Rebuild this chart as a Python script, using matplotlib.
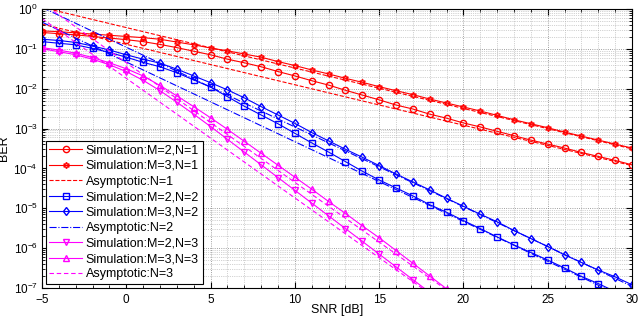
import numpy as np
import matplotlib
matplotlib.use("Agg")
import matplotlib.pyplot as plt
from matplotlib.ticker import LogLocator, MultipleLocator, NullFormatter

plt.rcParams['font.family'] = ['Liberation Sans', 'DejaVu Sans']
plt.rcParams['mathtext.fontset'] = 'custom'
plt.rcParams['mathtext.rm'] = 'Liberation Sans'

snr = np.arange(-5, 31)

# log10(BER)
sim_m2_n1 = [-0.59, -0.62, -0.65, -0.69, -0.73, -0.77, -0.82, -0.89, -0.97, -1.06,
             -1.15, -1.26, -1.35, -1.45, -1.57, -1.68, -1.80, -1.91, -2.04, -2.16,
             -2.28, -2.41, -2.51, -2.64, -2.74, -2.86, -2.96, -3.07, -3.18, -3.29,
             -3.39, -3.49, -3.60, -3.70, -3.80, -3.91]
sim_m3_n1 = [-0.55, -0.57, -0.60, -0.63, -0.66, -0.69, -0.72, -0.76, -0.83, -0.90,
             -0.98, -1.05, -1.13, -1.21, -1.32, -1.42, -1.53, -1.63, -1.74, -1.84,
             -1.95, -2.05, -2.15, -2.26, -2.36, -2.46, -2.56, -2.67, -2.78, -2.88,
             -2.98, -3.09, -3.19, -3.29, -3.39, -3.49]
sim_m2_n2 = [-0.82, -0.86, -0.90, -0.99, -1.09, -1.21, -1.34, -1.45, -1.60, -1.78,
             -1.96, -2.20, -2.44, -2.66, -2.88, -3.12, -3.36, -3.59, -3.83, -4.07,
             -4.29, -4.49, -4.69, -4.91, -5.10, -5.31, -5.51, -5.72, -5.92, -6.11,
             -6.30, -6.50, -6.71, -6.89, -7.09, -7.29]
sim_m3_n2 = [-0.76, -0.79, -0.84, -0.93, -1.03, -1.15, -1.26, -1.36, -1.51, -1.68,
             -1.85, -2.03, -2.23, -2.45, -2.66, -2.87, -3.10, -3.31, -3.52, -3.72,
             -3.93, -4.14, -4.34, -4.54, -4.75, -4.95, -5.15, -5.34, -5.56, -5.76,
             -5.96, -6.17, -6.36, -6.55, -6.72, -6.92]
snr_n3 = np.arange(-5, 20)
sim_m2_n3 = [-1.00, -1.07, -1.15, -1.26, -1.40, -1.57, -1.79, -2.05, -2.34, -2.64,
             -2.95, -3.27, -3.59, -3.91, -4.23, -4.55, -4.87, -5.19, -5.51, -5.83,
             -6.15, -6.47, -6.79, -7.11, -7.43]
sim_m3_n3 = [-0.97, -1.03, -1.11, -1.22, -1.35, -1.50, -1.68, -1.92, -2.18, -2.45,
             -2.73, -3.02, -3.32, -3.62, -3.92, -4.22, -4.52, -4.83, -5.13, -5.44,
             -5.74, -6.06, -6.38, -6.70, -7.02]

# asymptotes: straight lines, log10(BER) at SNR = -5 and 30 dB
asym_snr = [-5, 30]
asym_m2_n1 = [-0.38, -3.93]
asym_m3_n1 = [0.04, -3.51]
asym_m2_n2 = [-0.33, -7.33]
asym_m3_n2 = [0.04, -6.96]
asym_m2_n3 = [-0.24, -10.74]
asym_m3_n3 = [0.15, -10.35]

fig = plt.figure(figsize=(6.4, 3.2), dpi=100)
ax = fig.add_axes([0.0656, 0.1, 0.922, 0.872])

lw = 0.8
ms = 4.5
star6 = (6, 1, 0)
red = '#FF0000'
blue = '#0000FF'
mag = '#FF00FF'

ax.plot(snr, 10 ** np.array(sim_m2_n1), color=red, lw=lw, marker='o', ms=ms, mfc='none', label='Simulation:M=2,N=1')
ax.plot(snr, 10 ** np.array(sim_m3_n1), color=red, lw=lw, marker=star6, ms=ms, mfc='none', label='Simulation:M=3,N=1')
ax.plot(asym_snr, 10 ** np.array(asym_m2_n1), color=red, lw=lw, ls='--', label='Asymptotic:N=1')
ax.plot(asym_snr, 10 ** np.array(asym_m3_n1), color=red, lw=lw, ls='--')

ax.plot(snr, 10 ** np.array(sim_m2_n2), color=blue, lw=lw, marker='s', ms=ms - 0.5, mfc='none', label='Simulation:M=2,N=2')
ax.plot(snr, 10 ** np.array(sim_m3_n2), color=blue, lw=lw, marker='d', ms=ms, mfc='none', label='Simulation:M=3,N=2')
ax.plot(asym_snr, 10 ** np.array(asym_m2_n2), color=blue, lw=lw, ls='-.', label='Asymptotic:N=2')
ax.plot(asym_snr, 10 ** np.array(asym_m3_n2), color=blue, lw=lw, ls='-.')

ax.plot(snr_n3, 10 ** np.array(sim_m2_n3), color=mag, lw=lw, marker='v', ms=ms, mfc='none', label='Simulation:M=2,N=3')
ax.plot(snr_n3, 10 ** np.array(sim_m3_n3), color=mag, lw=lw, marker='^', ms=ms, mfc='none', label='Simulation:M=3,N=3')
ax.plot(asym_snr, 10 ** np.array(asym_m2_n3), color=mag, lw=lw, ls=(0, (4, 2.5)), label='Asymptotic:N=3')
ax.plot(asym_snr, 10 ** np.array(asym_m3_n3), color=mag, lw=lw, ls=(0, (4, 2.5)))

ax.set_yscale('log')
ax.set_xlim(-5, 30)
ax.set_ylim(1e-7, 1)
ax.xaxis.set_major_locator(MultipleLocator(5))
ax.xaxis.set_minor_locator(MultipleLocator(1))
ax.yaxis.set_major_locator(LogLocator(base=10, numticks=10))
ax.yaxis.set_minor_locator(LogLocator(base=10, subs=np.arange(2, 10), numticks=10))
ax.yaxis.set_minor_formatter(NullFormatter())

ax.grid(True, which='major', ls=':', color='#808080', lw=0.6)
ax.grid(True, which='minor', ls=':', color='#a8a8a8', lw=0.5)
ax.tick_params(which='both', direction='in', top=True, right=True, labelsize=8.5)
ax.tick_params(axis='x', pad=4)
ax.tick_params(axis='y', pad=3)
ax.tick_params(which='major', length=4)
ax.tick_params(which='minor', length=2)

ax.set_xlabel('SNR [dB]', fontsize=9, labelpad=-1)
ax.set_ylabel('BER', fontsize=9)
ax.yaxis.set_label_coords(-0.054, 0.5)

leg = ax.legend(loc='lower left', fontsize=9, fancybox=False, framealpha=1,
                edgecolor='black', borderaxespad=0.3, handlelength=2.6,
                labelspacing=0.28, borderpad=0.3, handletextpad=0.3)
leg.get_frame().set_linewidth(0.8)

fig.savefig('out.png', dpi=100)
